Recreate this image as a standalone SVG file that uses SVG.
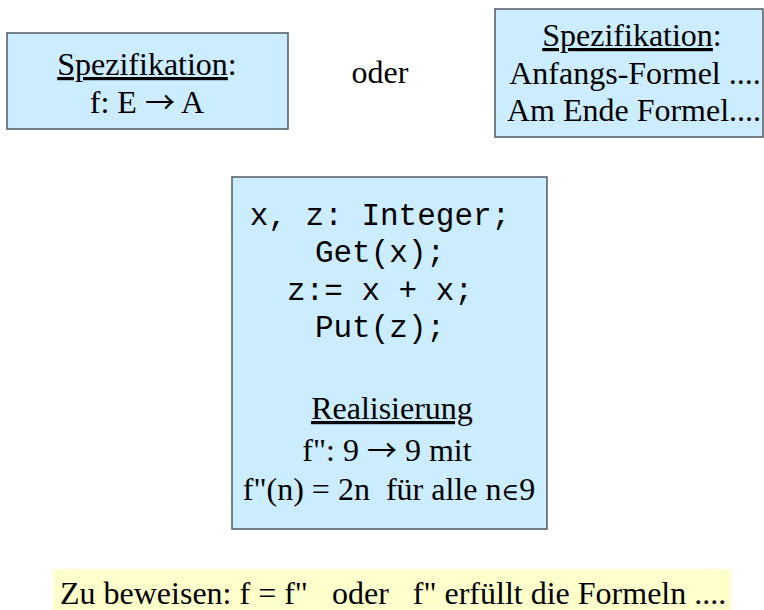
<svg xmlns="http://www.w3.org/2000/svg" width="764" height="610" viewBox="0 0 764 610">
<style>
.box{fill:#ccecff;stroke:#50585f;stroke-width:1.5}
.t{font-family:"Liberation Serif","Times New Roman",serif;font-size:32px;fill:#000;text-anchor:middle}
.m{font-family:"Liberation Mono","Courier New",monospace;font-size:31px;fill:#000;text-anchor:middle}
.u{text-decoration:underline}
.ar{font-family:"Noto Sans CJK SC","DejaVu Sans",sans-serif;font-size:30px}
.el{font-family:"DejaVu Serif",serif;font-size:24px}
</style>
<rect x="0" y="0" width="764" height="610" fill="#ffffff"/>
<g id="spec1">
<rect class="box" x="7" y="33" width="281" height="96"/>
<text class="t" x="147" y="75"><tspan class="u">Spezifikation</tspan>:</text>
<text class="t" x="147" y="113">f: E <tspan class="ar">→</tspan> A</text>
</g>
<g id="oder">
<text class="t" x="380" y="83">oder</text>
</g>
<g id="spec2">
<rect class="box" x="495" y="9" width="268" height="128"/>
<text class="t" x="632" y="46"><tspan class="u">Spezifikation</tspan>:</text>
<text class="t" x="635" y="84">Anfangs-Formel ....</text>
<text class="t" x="634" y="121">Am Ende Formel....</text>
</g>
<g id="impl">
<rect class="box" x="232" y="177" width="315" height="352"/>
<text class="m" x="380" y="225">x, z: Integer;</text>
<text class="m" x="380" y="262">Get(x);</text>
<text class="m" x="380" y="300">z:= x + x;</text>
<text class="m" x="380" y="337">Put(z);</text>
<text class="t u" x="392" y="419">Realisierung</text>
<text class="t" x="387" y="461">f": 9 <tspan class="ar">→</tspan> 9 mit</text>
<text class="t" x="389" y="500" xml:space="preserve">f"(n) = 2n  für alle n<tspan class="el">∈</tspan>9</text>
</g>
<g id="proof">
<rect x="53" y="569" width="678" height="41" fill="#ffffcc"/>
<text class="t" x="60" y="604" style="text-anchor:start" xml:space="preserve">Zu beweisen: f = f"   oder   f" erfüllt die Formeln ....</text>
</g>
<g id="connectors"/>
</svg>
